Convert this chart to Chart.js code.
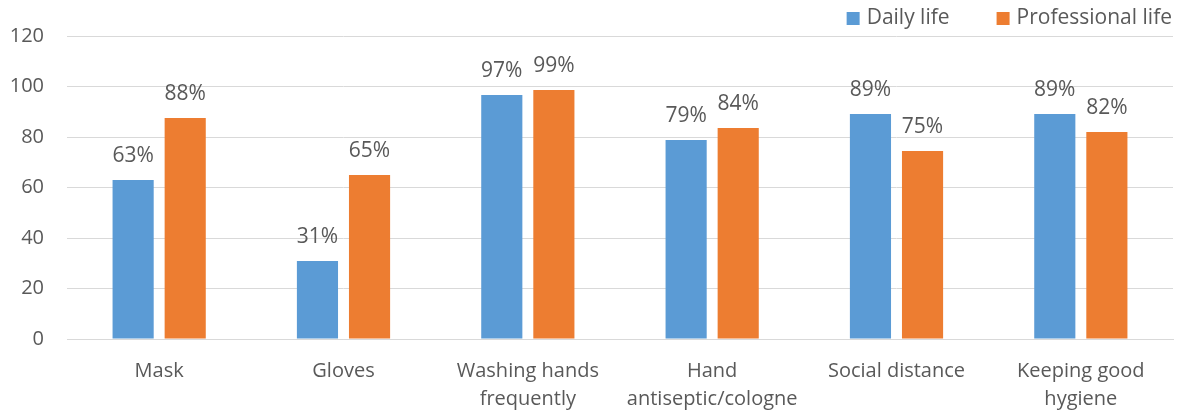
<!DOCTYPE html>
<html>
<head>
<meta charset="utf-8">
<script src="https://cdn.jsdelivr.net/npm/chart.js@4"></script>
<style>
  html, body { margin: 0; padding: 0; background: #fff; }
  #wrap { width: 1181px; height: 414px; }
</style>
</head>
<body>
<div id="wrap"><canvas id="chart"></canvas></div>
<script>
const categories = [
  "Mask",
  "Gloves",
  ["Washing hands", "frequently"],
  ["Hand", "antiseptic/cologne"],
  "Social distance",
  ["Keeping good", "hygiene"],
];
const dailyLife = [63, 30.9, 96.6, 78.8, 89.1, 89.1];
const professionalLife = [87.5, 65, 98.6, 83.6, 74.5, 82];
const dailyLabels = ["63%", "31%", "97%", "79%", "89%", "89%"];
const professionalLabels = ["88%", "65%", "99%", "84%", "75%", "82%"];
const yTicks = [0, 20, 40, 60, 80, 100, 120];

const textColor = "#595959";
const fontFamily = "'Open Sans', 'Noto Sans', sans-serif";

// draws the percentage text above each bar
const barLabels = {
  id: "barLabels",
  afterDatasetsDraw(chart) {
    const ctx = chart.ctx;
    ctx.save();
    ctx.font = "21px " + fontFamily;
    ctx.fillStyle = textColor;
    ctx.textAlign = "center";
    ctx.textBaseline = "alphabetic";
    chart.data.datasets.forEach((ds, i) => {
      chart.getDatasetMeta(i).data.forEach((bar, j) => {
        ctx.fillText(ds.labels[j], bar.x, bar.y - 18);
      });
    });
    ctx.restore();
  },
};

// legend in the top right corner, wider gap between the two entries
const cornerLegend = {
  id: "cornerLegend",
  afterDraw(chart) {
    const ctx = chart.ctx;
    ctx.save();
    ctx.font = "21px " + fontFamily;
    ctx.textBaseline = "middle";
    ctx.textAlign = "left";
    const box = 13, gap = 7, itemGap = 47, y = 18.5;
    const items = chart.data.datasets.map((ds) => ({
      text: ds.label,
      color: ds.backgroundColor,
      w: box + gap + ctx.measureText(ds.label).width,
    }));
    let total = items.reduce((s, it) => s + it.w, 0) + itemGap * (items.length - 1);
    let x = chart.width - 9 - total;
    items.forEach((it) => {
      ctx.fillStyle = it.color;
      ctx.fillRect(x, y - box / 2, box, box);
      ctx.fillStyle = textColor;
      ctx.fillText(it.text, x + box + gap, y);
      x += it.w + itemGap;
    });
    ctx.restore();
  },
};

new Chart(document.getElementById("chart"), {
  type: "bar",
  data: {
    labels: categories,
    datasets: [
      {
        label: "Daily life",
        data: dailyLife,
        labels: dailyLabels,
        backgroundColor: "#5b9bd5",
        categoryPercentage: 0.565,
        barPercentage: 0.79,
      },
      {
        label: "Professional life",
        data: professionalLife,
        labels: professionalLabels,
        backgroundColor: "#ed7d31",
        categoryPercentage: 0.565,
        barPercentage: 0.79,
      },
    ],
  },
  plugins: [barLabels, cornerLegend],
  options: {
    responsive: true,
    maintainAspectRatio: false,
    animation: false,
    layout: { padding: { left: 0, right: 8, top: 36, bottom: 0 } },
    plugins: {
      tooltip: { enabled: false },
      legend: { display: false },
    },
    scales: {
      x: {
        afterFit(axis) {
          axis.height = 75;
        },
        grid: { display: false, drawTicks: false },
        border: { display: true, color: "#d9d9d9", width: 1 },
        ticks: {
          color: textColor,
          font: { family: fontFamily, size: 20, lineHeight: 1.4 },
          maxRotation: 0,
          autoSkip: false,
          padding: 18,
        },
      },
      y: {
        min: 0,
        max: 120,
        afterBuildTicks(axis) {
          axis.ticks = yTicks.map((v) => ({ value: v }));
        },
        afterFit(axis) {
          axis.width = 67;
        },
        grid: { color: "#d9d9d9", drawTicks: false },
        border: { display: false },
        ticks: {
          color: textColor,
          font: { family: fontFamily, size: 20 },
          padding: 23,
        },
      },
    },
  },
});
</script>
</body>
</html>
